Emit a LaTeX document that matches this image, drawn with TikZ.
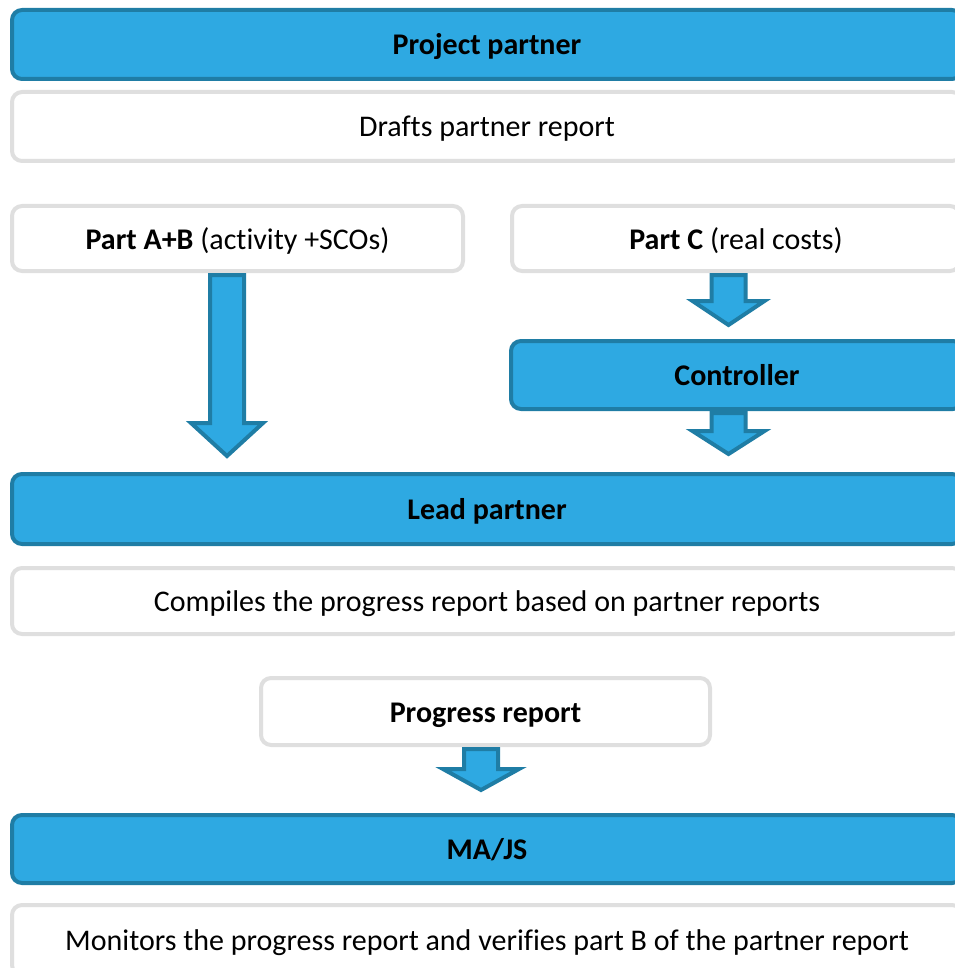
\documentclass[tikz,border=0pt]{standalone}
\usepackage{fontspec}
\setmainfont[Ligatures=NoCommon]{Carlito}
\usetikzlibrary{calc}
\definecolor{boxblue}{HTML}{2EA9E2}
\definecolor{edgeblue}{HTML}{1F7DA5}
\definecolor{edgegray}{HTML}{DFDFDF}
\tikzset{
  basebox/.style={line width=4pt, rounded corners=10pt, inner sep=0pt,
    text height=24pt, text depth=3pt,
    font=\fontsize{30}{36}\selectfont, text=black},
  bluebox/.style={basebox, draw=edgeblue, fill=boxblue, font=\fontsize{30}{36}\selectfont\bfseries},
  graybox/.style={basebox, draw=edgegray, fill=white},
  flowarrow/.style={draw=edgeblue, fill=boxblue, line width=4pt, line join=miter},
}
% downward block arrow: from, to, x offset, tip gap, head length, head half width
\newcommand\blockdown[6]{%
  \draw[flowarrow] let \p1=($(#1)+(#3pt,-2pt)$), \p2=($(#2)+(#3pt,#4pt)$) in
    (\x1-17pt,\y1) -- (\x1+17pt,\y1) -- (\x1+17pt,\y2+#5pt) -- (\x1+#6pt,\y2+#5pt)
    -- (\x1,\y2) -- (\x1-#6pt,\y2+#5pt) -- (\x1-17pt,\y2+#5pt) -- cycle;}
\begin{document}
\begin{tikzpicture}[x=1pt,y=-1pt]
  \useasboundingbox (0,0) rectangle (954,968);

  \node[bluebox, minimum width=950pt, minimum height=69pt] (pp) at (487,44.5) {Project partner};
  \node[graybox, minimum width=950pt, minimum height=69pt] (drafts) at (487,126.5) {Drafts partner report};

  \node[graybox, minimum width=451pt, minimum height=65pt] (ab) at (237.5,238.5) {\textbf{Part A+B} (activity +SCOs)};
  \node[graybox, minimum width=448pt, minimum height=65pt] (pc) at (736,238.5) {\textbf{Part C} (real costs)};

  \node[bluebox, minimum width=452pt, minimum height=68pt] (ctrl) at (737,375) {Controller};

  \node[bluebox, minimum width=950pt, minimum height=70pt] (lead) at (487,509) {Lead partner};
  \node[graybox, minimum width=950pt, minimum height=66pt] (comp) at (487,601) {Compiles the progress report based on partner reports};

  \node[graybox, minimum width=449pt, minimum height=67pt] (prog) at (485.5,711.5) {\textbf{Progress report}};

  \node[bluebox, minimum width=950pt, minimum height=68pt] (majs) at (487,849) {MA/JS};
  \node[graybox, minimum width=950pt, minimum height=70pt] (mon) at (487,940) {Monitors the progress report and verifies part B of the partner report};

  \blockdown{ab.south}{lead.north}{-10.5}{16}{33}{36}
  \blockdown{pc.south}{ctrl.north}{-7.5}{14}{24}{36}
  \blockdown{ctrl.south}{lead.north}{-8.5}{18}{23}{36}
  \blockdown{prog.south}{majs.north}{-4.5}{23}{21}{38}
\end{tikzpicture}
\end{document}
